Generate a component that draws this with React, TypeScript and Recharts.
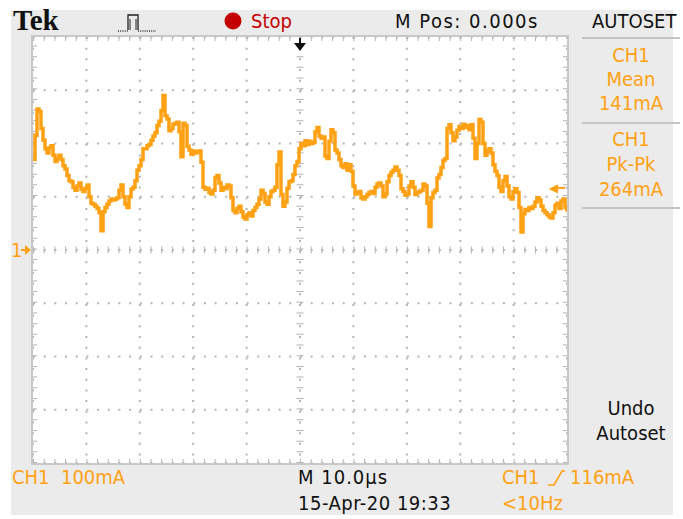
import { LineChart, Line, XAxis, YAxis, CartesianGrid, ReferenceLine } from 'recharts'

// CH1 current samples (mA), one every ~0.375 us across the 100 us record
const CH1_MA = [
  170, 215, 265, 260, 228, 206, 190, 182, 192, 196, 178, 166, 172, 178, 170, 158, 152, 140, 130, 128,
  118, 112, 120, 126, 114, 110, 116, 122, 100, 88, 86, 82, 78, 70, 36, 72, 80, 86, 92, 96,
  94, 96, 98, 112, 122, 100, 86, 80, 100, 114, 118, 130, 150, 158, 170, 190, 190, 196, 198, 206,
  214, 220, 234, 242, 262, 290, 252, 246, 224, 228, 236, 238, 240, 222, 175, 238, 234, 195, 188, 180,
  186, 182, 184, 186, 165, 118, 114, 116, 108, 105, 112, 136, 140, 126, 112, 118, 115, 122, 120, 98,
  74, 70, 78, 82, 72, 62, 58, 66, 70, 64, 74, 80, 86, 96, 112, 106, 90, 86, 100, 110,
  112, 118, 160, 184, 104, 82, 90, 116, 128, 130, 142, 158, 166, 190, 200, 196, 205, 198, 204, 200,
  202, 222, 230, 214, 210, 212, 176, 172, 204, 226, 220, 188, 182, 170, 158, 155, 162, 150, 160, 148,
  120, 105, 108, 110, 98, 96, 100, 104, 108, 110, 106, 118, 124, 126, 120, 100, 105, 128, 140, 146,
  150, 156, 150, 140, 115, 110, 103, 105, 120, 128, 118, 104, 108, 110, 112, 124, 120, 88, 44, 98,
  108, 112, 135, 142, 155, 168, 172, 228, 235, 220, 205, 212, 225, 232, 228, 236, 230, 234, 226, 235,
  210, 172, 200, 245, 240, 200, 178, 186, 190, 182, 160, 148, 140, 118, 110, 130, 138, 120, 100, 96,
  110, 115, 108, 80, 34, 68, 76, 74, 80, 78, 82, 90, 98, 94, 82, 74, 70, 66, 62, 60,
  70, 84, 88, 78, 92, 96, 80, 72,
]

const TIME_TICKS = [-40, -30, -20, -10, 0, 10, 20, 30, 40]
const CURRENT_TICKS = [-300, -200, -100, 0, 100, 200, 300]
const SPAN_US = 100
const TRIGGER_MA = 116

const data = CH1_MA.map((ma, i) => ({
  t: -50 + (i * SPAN_US) / (CH1_MA.length - 1),
  ma,
}))

const ORANGE = '#ffa114'
const GRID = '#b4b4b4'
const FONT = "'Liberation Sans Narrow', 'DejaVu Sans Condensed', 'Liberation Sans', sans-serif"

const txt = (left: number, top: number, color: string, spacing = 0): React.CSSProperties => ({
  position: 'absolute',
  left,
  top,
  color,
  fontSize: 20,
  fontFamily: FONT,
  lineHeight: 1,
  letterSpacing: spacing,
  whiteSpace: 'nowrap',
})

const center = (top: number, color: string): React.CSSProperties => ({
  position: 'absolute',
  left: 582,
  width: 98,
  top,
  color,
  fontSize: 20,
  fontFamily: FONT,
  lineHeight: 1,
  textAlign: 'center',
})

const tickLine = { stroke: GRID, strokeDasharray: '1 9.68' }

export default function App() {
  return (
    <div style={{ position: 'absolute', left: 0, top: 0, width: 683, height: 519, background: '#fff' }}>
      <div style={{ position: 'absolute', left: 11, top: 10, width: 662, height: 505, background: '#ebebeb' }} />

      {/* header */}
      <div style={{ ...txt(13, 6, '#111'), fontSize: 29, fontFamily: "'Liberation Serif', 'DejaVu Serif', serif", fontWeight: 700 }}>Tek</div>
      <svg style={{ position: 'absolute', left: 116, top: 10 }} width={44} height={24}>
        <path d="M12 20 V5 H22 V20" fill="none" stroke="#222" strokeWidth={1.3} />
        <path d="M14 20 V9 M20 20 V9" fill="none" stroke="#222" strokeWidth={1} />
        <path d="M2 21 H12 M22 21 H40" fill="none" stroke="#333" strokeWidth={1.3} strokeDasharray="1 1.2" />
      </svg>
      <svg style={{ position: 'absolute', left: 224, top: 12 }} width={18} height={18}>
        <circle cx={9} cy={9} r={8.5} fill="#c40000" />
      </svg>
      <div style={txt(251, 11, '#c40000')}>Stop</div>
      <div style={txt(395, 11, '#111', 1.5)}>M Pos: 0.000s</div>
      <div style={txt(592, 11, '#111')}>AUTOSET</div>

      {/* right panel */}
      {[37, 122, 207].map((y) => (
        <div key={y} style={{ position: 'absolute', left: 582, top: y, width: 98, height: 2, background: '#c4c4c4' }} />
      ))}
      <div style={center(45, ORANGE)}>CH1</div>
      <div style={center(69, ORANGE)}>Mean</div>
      <div style={center(93, ORANGE)}>141mA</div>
      <div style={center(129, ORANGE)}>CH1</div>
      <div style={center(154, ORANGE)}>Pk-Pk</div>
      <div style={center(179, ORANGE)}>264mA</div>
      <div style={center(398, '#111')}>Undo</div>
      <div style={center(423, '#111')}>Autoset</div>

      {/* footer */}
      <div style={txt(12, 467, ORANGE)}>CH1&nbsp;&nbsp;100mA</div>
      <div style={txt(298, 467, '#111', 1)}>M 10.0µs</div>
      <div style={txt(502, 467, ORANGE)}>CH1</div>
      <svg style={{ position: 'absolute', left: 546, top: 468 }} width={20} height={20}>
        <path d="M2 17 H8 L16 3 H19" fill="none" stroke={ORANGE} strokeWidth={1.6} />
      </svg>
      <div style={txt(570, 467, ORANGE)}>116mA</div>
      <div style={txt(298, 493, '#111', 0.5)}>15-Apr-20 19:33</div>
      <div style={txt(502, 493, ORANGE)}>&lt;10Hz</div>

      {/* ground marker */}
      <div style={txt(11, 240, ORANGE)}>1</div>
      <svg style={{ position: 'absolute', left: 20, top: 244 }} width={12} height={12}>
        <path d="M1 6 H6" stroke={ORANGE} strokeWidth={2} />
        <path d="M5 1 L11 6 L5 11 Z" fill={ORANGE} />
      </svg>

      {/* graticule + trace */}
      <div style={{ position: 'absolute', left: 33, top: 37, width: 534, height: 426, background: '#fff', outline: '2px solid #c8c8c8' }}>
        <LineChart width={534} height={426} data={data} margin={{ top: 0, right: 0, bottom: 0, left: 0 }}>
          <XAxis dataKey="t" type="number" domain={[-50, 50]} ticks={TIME_TICKS} hide />
          <YAxis type="number" domain={[-400, 400]} ticks={CURRENT_TICKS} hide />
          <CartesianGrid stroke={GRID} strokeWidth={2} strokeDasharray="2 8.68" />
          <ReferenceLine y={0} {...tickLine} strokeWidth={7} />
          <ReferenceLine x={0} {...tickLine} strokeWidth={7} />
          <ReferenceLine y={400} {...tickLine} strokeWidth={8} />
          <ReferenceLine y={-400} {...tickLine} strokeWidth={8} />
          <ReferenceLine x={-50} {...tickLine} strokeWidth={8} />
          <ReferenceLine x={50} {...tickLine} strokeWidth={8} />
          <Line
            dataKey="ma"
            type="stepAfter"
            stroke={ORANGE}
            strokeWidth={3.5}
            dot={false}
            isAnimationActive={false}
          />
          <ReferenceLine y={TRIGGER_MA} stroke="none" label={{ value: '◀━', position: 'insideRight', fill: ORANGE, fontSize: 12, dx: 3 }} />
        </LineChart>
      </div>

      {/* trigger position */}
      <svg style={{ position: 'absolute', left: 293, top: 37 }} width={14} height={16}>
        <path d="M7 1 V8" stroke="#111" strokeWidth={2} />
        <path d="M1 6 H13 L7 14 Z" fill="#111" />
      </svg>
    </div>
  )
}
